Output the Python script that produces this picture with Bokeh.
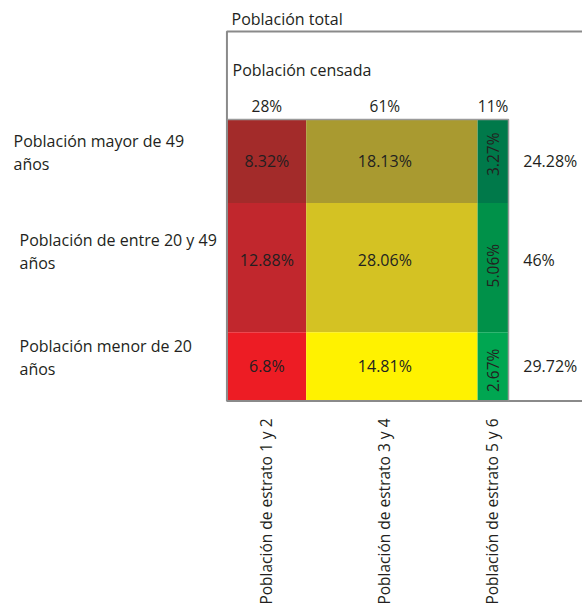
import math
from bokeh.plotting import figure
from bokeh.models import Range1d
from bokeh.core.properties import value
from bokeh.embed import file_html
from bokeh.resources import INLINE

# ---------------- data ----------------
columns = ["Población de estrato 1 y 2", "Población de estrato 3 y 4", "Población de estrato 5 y 6"]
col_labels = ["28%", "61%", "11%"]
rows = ["Población mayor de 49\naños", "Población de entre 20 y 49\naños", "Población menor de 20\naños"]
row_right_labels = ["24.28%", "46%", "29.72%"]
row_old = [8.32, 18.13, 3.27]
row_mid = [12.88, 28.06, 5.06]
row_young = [6.8, 14.81, 2.67]
cells = [row_old, row_mid, row_young]
colors = [["#A32B2A", "#A99A30", "#00794A"],
          ["#C1272D", "#D4C223", "#009149"],
          ["#ED1C24", "#FFF200", "#00A651"]]
title_outer = "Población total"
title_inner = "Población censada"

# ---------------- layout ----------------
W, H = 582, 611
PX = 2.81            # pixels per data unit (mosaic spans 0..100)
LEFT_PX, BOTTOM_PX = 227, 400
X0 = -LEFT_PX / PX
X1 = (W - LEFT_PX) / PX
Y1 = BOTTOM_PX / PX
Y0 = -(H - BOTTOM_PX) / PX
FONT = value("Open Sans")
TXT = "#231F20"

p = figure(width=W, height=H, x_range=Range1d(X0, X1), y_range=Range1d(Y0, Y1),
           output_backend="svg", toolbar_location=None, min_border=0,
           x_axis_type=None, y_axis_type=None)
p.grid.visible = False
p.outline_line_color = None
p.background_fill_color = "white"
p.border_fill_color = "white"

# mosaic geometry from data
col_tot = [sum(r[j] for r in cells) for j in range(3)]
row_tot = [sum(r) for r in cells]
grand = sum(row_tot)
col_w = [c / grand * 100 for c in col_tot]
row_h = [r / grand * 100 for r in row_tot]
col_left = [sum(col_w[:j]) for j in range(3)]
row_top = [100 - sum(row_h[:i]) for i in range(3)]

L, R, T, B, C = [], [], [], [], []
for i in range(3):
    for j in range(3):
        L.append(col_left[j]); R.append(col_left[j] + col_w[j])
        T.append(row_top[i]); B.append(row_top[i] - row_h[i])
        C.append(colors[i][j])
p.quad(left=L, right=R, top=T, bottom=B, fill_color=C, line_color=None)

col_cx = [col_left[j] + col_w[j] / 2 for j in range(3)]
row_cy = [row_top[i] - row_h[i] / 2 for i in range(3)]

# cell labels
hx, hy, ht, rx, ry, rt = [], [], [], [], [], []
col_dx = [0, -7, 0]
row_dy = [0, -8, 0]
rot_dy = [-7, -2, 4]
for i in range(3):
    for j in range(3):
        lab = f"{cells[i][j]}%"
        if j == 2:
            rx.append(col_cx[j]); ry.append(row_cy[i] - rot_dy[i] / PX); rt.append(lab)
        else:
            hx.append(col_cx[j] + col_dx[j] / PX); hy.append(row_cy[i] - row_dy[i] / PX); ht.append(lab)
p.text(x=hx, y=hy, text=ht, text_font=FONT, text_font_size="16px", text_color=TXT,
       text_align="center", text_baseline="middle")
p.text(x=rx, y=ry, text=rt, angle=math.pi / 2, text_font=FONT, text_font_size="15.5px",
       text_color=TXT, text_align="center", text_baseline="middle")

# column header percentages
p.text(x=[col_cx[j] + col_dx[j] / PX for j in range(3)], y=[100 + 14 / PX] * 3, text=col_labels,
       text_font=FONT, text_font_size="15.5px", text_color=TXT,
       text_align="center", text_baseline="middle")

# right totals
p.text(x=[101 + 12 / PX] * 3, y=[row_cy[i] - row_dy[i] / PX for i in range(3)], text=row_right_labels,
       text_font=FONT, text_font_size="16px", text_color=TXT,
       text_align="left", text_baseline="middle")

# left row labels
row_lab_x = [(13 - LEFT_PX) / PX, (19 - LEFT_PX) / PX, (19 - LEFT_PX) / PX]
row_lab_dy = [-9, -16, -9]
p.text(x=row_lab_x, y=[row_cy[i] - row_lab_dy[i] / PX for i in range(3)], text=rows,
       text_font=FONT, text_font_size="16px", text_color=TXT, text_line_height=1.05,
       text_align="left", text_baseline="middle")

# bottom column labels (rotated)
p.text(x=[col_cx[j] + col_dx[j] / PX - 1 / PX for j in range(3)], y=[-18 / PX] * 3, text=columns,
       angle=math.pi / 2, text_font=FONT, text_font_size="15.5px", text_color=TXT,
       text_align="right", text_baseline="middle")

# titles
top_frame = 100 + 88 / PX
p.text(x=[4 / PX], y=[top_frame + 13 / PX], text=[title_outer], text_font=FONT,
       text_font_size="16px", text_color=TXT, text_align="left", text_baseline="middle")
p.text(x=[5 / PX], y=[100 + 50 / PX], text=[title_inner], text_font=FONT,
       text_font_size="16px", text_color=TXT, text_align="left", text_baseline="middle")

# frames
p.line(x=[X1 + 5, -0.2, -0.2, X1 + 5], y=[top_frame, top_frame, -0.2, -0.2],
       line_color="#8A8A8A", line_width=2)
p.line(x=[0, 100, 100], y=[100, 100, 0], line_color="#9A9A9A", line_width=1.5)

open("out.html", "w").write(file_html(p, INLINE))
